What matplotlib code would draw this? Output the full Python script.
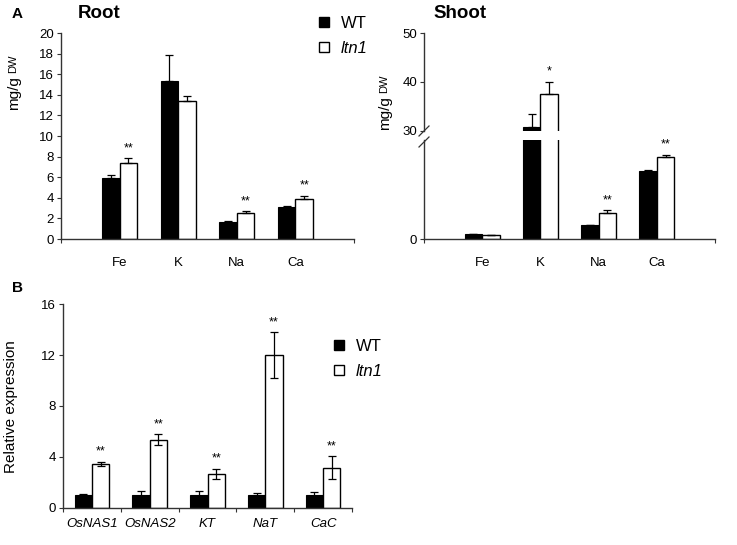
import matplotlib
matplotlib.use("Agg")
import matplotlib.pyplot as plt
import numpy as np
from matplotlib.patches import Patch

plt.rcParams['font.family'] = ['Liberation Sans', 'DejaVu Sans']

# ---------------- data ----------------
elements = ["Fe", "K", "Na", "Ca"]
root_wt = [5.9, 15.35, 1.62, 3.14]
root_wt_err = [0.32, 2.5, 0.13, 0.05]
root_ltn = [7.42, 13.35, 2.56, 3.89]
root_ltn_err = [0.42, 0.58, 0.12, 0.29]
root_sig_ltn = ["**", "", "**", "**"]

shoot_wt = [0.5, 30.8, 1.4, 6.9]
shoot_wt_err = [0.03, 2.6, 0.05, 0.05]
shoot_ltn = [0.4, 37.6, 2.6, 8.3]
shoot_ltn_err = [0.03, 2.5, 0.3, 0.2]
shoot_sig_ltn = ["", "*", "**", "**"]

genes = ["OsNAS1", "OsNAS2", "KT", "NaT", "CaC"]
expr_wt = [1.0, 1.0, 1.0, 1.0, 1.0]
expr_wt_err = [0.04, 0.3, 0.3, 0.15, 0.27]
expr_ltn = [3.45, 5.35, 2.67, 12.0, 3.15]
expr_ltn_err = [0.18, 0.43, 0.38, 1.8, 0.88]
expr_sig_ltn = ["**", "**", "**", "**", "**"]

series_labels = ["WT", "ltn1"]

W, H = 737, 545
fig = plt.figure(figsize=(W / 100, H / 100), dpi=100)

def fax(l, t, r, b):
    return fig.add_axes([l / W, 1 - b / H, (r - l) / W, (b - t) / H])

def style(ax):
    for s in ["top", "right"]:
        ax.spines[s].set_visible(False)
    for s in ["left", "bottom"]:
        ax.spines[s].set_linewidth(1.0)
        ax.spines[s].set_color("#333333")
    ax.tick_params(axis="y", direction="out", length=3, width=0.8, labelsize=9.5, pad=2, color="#333333")

bw = 0.3
ekw = dict(elinewidth=0.9, capthick=0.9, ecolor="black")

def draw_pairs(ax, x, wt, wte, lt, lte, ylim, one_sided=True, sig=None, sig_pad=3):
    x = np.asarray(x, dtype=float)
    wte_ = [np.zeros(len(wte)), wte] if one_sided else wte
    lte_ = [np.zeros(len(lte)), lte] if one_sided else lte
    ax.bar(x - bw / 2, wt, bw, color="black", edgecolor="black", linewidth=0.8, zorder=2)
    ax.bar(x + bw / 2, lt, bw, color="white", edgecolor="black", linewidth=1.0, zorder=2)
    ax.errorbar(x - bw / 2, wt, yerr=wte_, fmt="none", capsize=2.8, zorder=3, **ekw)
    ax.errorbar(x + bw / 2, lt, yerr=lte_, fmt="none", capsize=2.8, zorder=3, **ekw)
    if sig is not None:
        for xi, v, e, s in zip(x, lt, lte, sig):
            top = v + e
            if s and ylim[0] < top < ylim[1]:
                ax.annotate(s, (xi + bw / 2, top), xytext=(0, sig_pad), textcoords="offset points",
                            ha="center", va="bottom", fontsize=9, annotation_clip=False)

# ---------------- Root ----------------
axr = fax(61, 33, 354, 239)
style(axr)
xr = np.arange(len(elements))
draw_pairs(axr, xr, root_wt, root_wt_err, root_ltn, root_ltn_err, (0, 20), sig=root_sig_ltn)
axr.set_xlim(-1, 4)
axr.set_ylim(0, 20)
axr.set_yticks(np.arange(0, 21, 2))
axr.set_xticks(xr)
axr.set_xticklabels(elements, fontsize=9.5)
axr.tick_params(axis="x", length=0, pad=13)
axr.set_xticks([-1, 4], minor=True)
axr.tick_params(axis="x", which="minor", length=3, width=0.8, direction="out", color="#333333")

# ---------------- Shoot (broken axis) ----------------
axs_lo = fax(424, 140, 715, 239)
axs_hi = fax(424, 33.3, 715, 130.7)
for a in (axs_lo, axs_hi):
    style(a)
    a.set_xlim(-1, 4)
xs = np.arange(len(elements))
draw_pairs(axs_lo, xs, shoot_wt, shoot_wt_err, shoot_ltn, shoot_ltn_err, (0, 10), sig=shoot_sig_ltn)
draw_pairs(axs_hi, xs, shoot_wt, shoot_wt_err, shoot_ltn, shoot_ltn_err, (30, 50), sig=shoot_sig_ltn)
axs_lo.set_ylim(0, 10)
axs_lo.set_yticks([0])
axs_lo.set_xticks(xs)
axs_lo.set_xticklabels(elements, fontsize=9.5)
axs_lo.tick_params(axis="x", length=0, pad=13)
axs_lo.set_xticks([-1, 4], minor=True)
axs_lo.tick_params(axis="x", which="minor", length=3, width=0.8, direction="out", color="#333333")
axs_hi.set_ylim(30, 50)
axs_hi.set_yticks([30, 40, 50])
axs_hi.spines["bottom"].set_visible(False)
axs_hi.set_xticks([])
# break marks
for y0 in (136, 147):
    fig.add_artist(plt.Line2D([419 / W, 429 / W], [1 - (y0) / H, 1 - (y0 - 10) / H],
                              color="#333333", lw=0.9))

# ---------------- B ----------------
axb = fax(63, 304.3, 352, 507.7)
style(axb)
xb = np.arange(len(genes))
draw_pairs(axb, xb, expr_wt, expr_wt_err, expr_ltn, expr_ltn_err, (0, 16), one_sided=False,
           sig=expr_sig_ltn)
axb.set_xlim(-0.5, 4.5)
axb.set_ylim(0, 16)
axb.set_yticks([0, 4, 8, 12, 16])
axb.set_xticks(xb)
axb.set_xticklabels(genes, fontsize=9.5, style="italic")
axb.tick_params(axis="x", length=0, pad=7.5)
axb.set_xticks(np.arange(-0.5, 4.6, 1), minor=True)
axb.tick_params(axis="x", which="minor", length=3, width=0.8, direction="out", color="#333333")

# ---------------- texts ----------------
fig.text(12 / W, 1 - 14 / H, "A", fontsize=11, fontweight="bold", va="center", ha="left")
fig.text(12 / W, 1 - 288 / H, "B", fontsize=11, fontweight="bold", va="center", ha="left")
fig.text(78 / W, 1 - 13 / H, "Root", fontsize=13.5, fontweight="bold", va="center", ha="left")
fig.text(433 / W, 1 - 13 / H, "Shoot", fontsize=13.5, fontweight="bold", va="center", ha="left")

def ylab(x, y_split):
    fig.text(x / W, 1 - y_split / H, "mg/g", rotation=90, fontsize=11, ha="center", va="top")
    fig.text((x - 1) / W, 1 - (y_split - 3) / H, "DW", rotation=90, fontsize=8, ha="center", va="bottom")

ylab(14, 76)
ylab(385, 96)
fig.text(11 / W, 1 - 407 / H, "Relative expression", rotation=90, fontsize=11, ha="center", va="center")

# legends
handles = [Patch(facecolor="black", edgecolor="black"), Patch(facecolor="white", edgecolor="black", linewidth=1.0)]
for (lx, ly) in ((319, 16), (334, 339)):
    leg = fig.legend(handles, series_labels, loc="upper left", bbox_to_anchor=(lx / W, 1 - ly / H),
                     frameon=False, fontsize=12, handlelength=0.6, handleheight=0.6,
                     handletextpad=0.7, labelspacing=0.6, borderpad=0, borderaxespad=0)
    leg.get_texts()[1].set_style("italic")

fig.savefig("out.png", dpi=100)
